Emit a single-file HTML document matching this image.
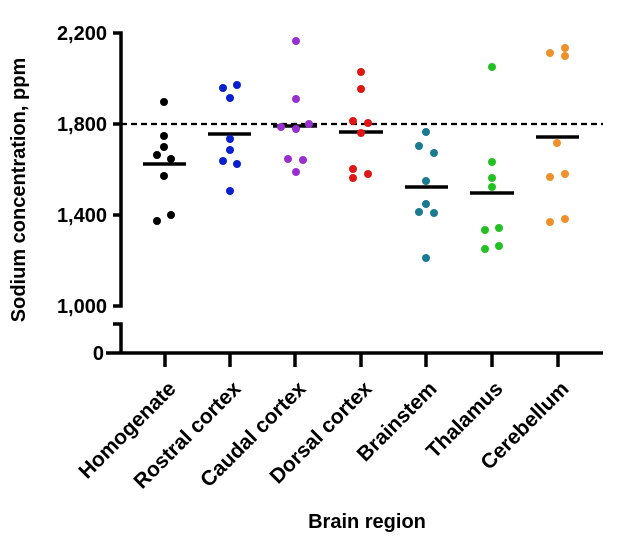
<!DOCTYPE html>
<html><head><meta charset="utf-8"><style>body{margin:0;background:#fff}svg{display:block}text{font-family:"Liberation Sans",Arial,sans-serif;font-weight:bold;fill:#000}</style></head><body>
<svg width="624" height="551" viewBox="0 0 624 551">
<g stroke="#000" stroke-width="3.5" fill="none">
<polyline points="113,33 121,33 121,306 113,306"/>
<line x1="113" y1="124" x2="121" y2="124"/>
<line x1="113" y1="215" x2="121" y2="215"/>
<polyline points="113,324 121,324 121,353"/>
<line x1="106" y1="353" x2="603" y2="353"/>
<line x1="165" y1="353" x2="165" y2="367"/><line x1="230" y1="353" x2="230" y2="367"/><line x1="295" y1="353" x2="295" y2="367"/><line x1="361" y1="353" x2="361" y2="367"/><line x1="426" y1="353" x2="426" y2="367"/><line x1="492" y1="353" x2="492" y2="367"/><line x1="558" y1="353" x2="558" y2="367"/>
<line x1="121" y1="124" x2="603" y2="124" stroke-width="2.2" stroke-dasharray="6,4"/>
<line x1="143" y1="164" x2="186" y2="164"/>
<line x1="208" y1="134" x2="251" y2="134"/>
<line x1="273" y1="126" x2="317" y2="126"/>
<line x1="339" y1="132" x2="383" y2="132"/>
<line x1="405" y1="187" x2="448" y2="187"/>
<line x1="470" y1="193" x2="514" y2="193"/>
<line x1="536" y1="137" x2="579" y2="137"/>
</g>
<g font-size="20" text-anchor="end">
<text x="107" y="40">2,200</text><text x="107" y="131">1,800</text><text x="107" y="222">1,400</text><text x="107" y="313">1,000</text><text x="104" y="360">0</text>
</g>
<g fill="#000"><circle cx="164" cy="102" r="4"/><circle cx="164" cy="136" r="4"/><circle cx="164" cy="147" r="4"/><circle cx="157" cy="155" r="4"/><circle cx="171" cy="159" r="4"/><circle cx="164" cy="176" r="4"/><circle cx="157" cy="221" r="4"/><circle cx="171" cy="215" r="4"/></g>
<g fill="#0a1fd0"><circle cx="223" cy="88" r="4"/><circle cx="237" cy="85" r="4"/><circle cx="230" cy="98" r="4"/><circle cx="230" cy="139" r="4"/><circle cx="230" cy="150" r="4"/><circle cx="223" cy="161" r="4"/><circle cx="237" cy="164" r="4"/><circle cx="230" cy="191" r="4"/></g>
<g fill="#9a2fd0"><circle cx="296" cy="41" r="4"/><circle cx="296" cy="99" r="4"/><circle cx="281" cy="127" r="4"/><circle cx="296" cy="129" r="4"/><circle cx="309" cy="124" r="4"/><circle cx="288" cy="159" r="4"/><circle cx="303" cy="160" r="4"/><circle cx="296" cy="172" r="4"/></g>
<g fill="#e01515"><circle cx="361" cy="72" r="4"/><circle cx="361" cy="89" r="4"/><circle cx="353" cy="121" r="4"/><circle cx="368" cy="123" r="4"/><circle cx="361" cy="133" r="4"/><circle cx="353" cy="169" r="4"/><circle cx="353" cy="178" r="4"/><circle cx="368" cy="174" r="4"/></g>
<g fill="#1a7a90"><circle cx="426" cy="132" r="4"/><circle cx="419" cy="146" r="4"/><circle cx="434" cy="153" r="4"/><circle cx="426" cy="181" r="4"/><circle cx="426" cy="204" r="4"/><circle cx="419" cy="212" r="4"/><circle cx="434" cy="213" r="4"/><circle cx="426" cy="258" r="4"/></g>
<g fill="#22c022"><circle cx="492" cy="67" r="4"/><circle cx="492" cy="162" r="4"/><circle cx="492" cy="178" r="4"/><circle cx="492" cy="187" r="4"/><circle cx="485" cy="230" r="4"/><circle cx="499" cy="228" r="4"/><circle cx="485" cy="249" r="4"/><circle cx="499" cy="246" r="4"/></g>
<g fill="#f0902a"><circle cx="550" cy="53" r="4"/><circle cx="565" cy="48" r="4"/><circle cx="565" cy="56" r="4"/><circle cx="557" cy="143" r="4"/><circle cx="550" cy="177" r="4"/><circle cx="565" cy="174" r="4"/><circle cx="550" cy="222" r="4"/><circle cx="565" cy="219" r="4"/></g>
<g font-size="21" text-anchor="end">
<text transform="translate(177,390) rotate(-45)">Homogenate</text>
<text transform="translate(242,390) rotate(-45)">Rostral cortex</text>
<text transform="translate(307,390) rotate(-45)">Caudal cortex</text>
<text transform="translate(373,390) rotate(-45)">Dorsal cortex</text>
<text transform="translate(438,390) rotate(-45)">Brainstem</text>
<text transform="translate(504,390) rotate(-45)">Thalamus</text>
<text transform="translate(570,390) rotate(-45)">Cerebellum</text>
</g>
<text x="367" y="528" font-size="20" text-anchor="middle">Brain region</text>
<text transform="translate(25,190) rotate(-90)" font-size="20" text-anchor="middle">Sodium concentration, ppm</text>
</svg>
</body></html>
